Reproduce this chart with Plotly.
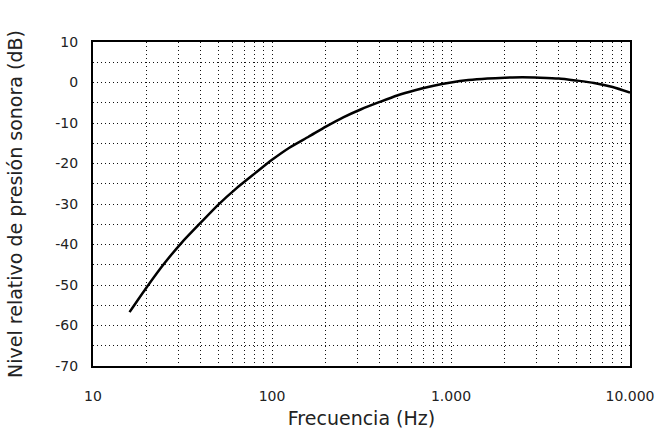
import plotly.graph_objects as go

# A-weighted relative sound pressure level by frequency
freq_hz = [16, 20, 25, 31.5, 40, 50, 63, 80, 100, 125, 160, 200, 250, 315, 400,
           500, 630, 800, 1000, 1250, 1600, 2000, 2500, 3150, 4000, 5000, 6300,
           8000, 10000]
level_db = [-56.7, -50.5, -44.7, -39.4, -34.6, -30.2, -26.2, -22.5, -19.1, -16.1,
            -13.4, -10.9, -8.6, -6.6, -4.8, -3.2, -1.9, -0.8, 0.0, 0.6, 1.0, 1.2,
            1.3, 1.2, 1.0, 0.5, -0.1, -1.1, -2.5]

# Axis ticks: a gridline at every 1..9 multiple of each decade, labels at decades
x_tickvals = [m * 10 ** d for d in range(1, 4) for m in range(1, 10)] + [10000]
x_decade_labels = {10: "10", 100: "100", 1000: "1.000", 10000: "10.000"}
x_ticktext = [x_decade_labels.get(v, "") for v in x_tickvals]

y_tickvals = list(range(-70, 11, 5))
y_ticktext = [str(v) if v % 10 == 0 else "" for v in y_tickvals]

fig = go.Figure()
fig.add_trace(go.Scatter(
    x=freq_hz, y=level_db, mode="lines",
    line=dict(color="black", width=2.5, shape="spline", smoothing=0.6),
    showlegend=False, hoverinfo="skip",
))

grid = dict(showgrid=True, gridcolor="#111111", griddash="1px,3px", gridwidth=1.3)
frame = dict(showline=True, linecolor="black", linewidth=2, mirror=True,
             zeroline=False, ticks="", automargin=False)
tick_font = dict(family="DejaVu Sans", size=14, color="#222")
title_font = dict(family="DejaVu Sans", size=19, color="#222")

fig.update_xaxes(
    type="log", range=[1, 4], tickvals=x_tickvals, ticktext=x_ticktext,
    tickfont=tick_font, ticklabelstandoff=16,
    title=dict(text="Frecuencia (Hz)", font=title_font, standoff=9),
    **grid, **frame,
)
fig.update_yaxes(
    range=[-70, 10], tickvals=y_tickvals, ticktext=y_ticktext,
    tickfont=tick_font, ticklabelstandoff=10,
    title=dict(text="Nivel relativo de presión sonora (dB)", font=title_font, standoff=28),
    **grid, **frame,
)

fig.update_layout(
    width=661, height=440,
    margin=dict(l=93, r=31, t=42, b=74),
    paper_bgcolor="white", plot_bgcolor="white",
)

fig.write_html("out.html")
